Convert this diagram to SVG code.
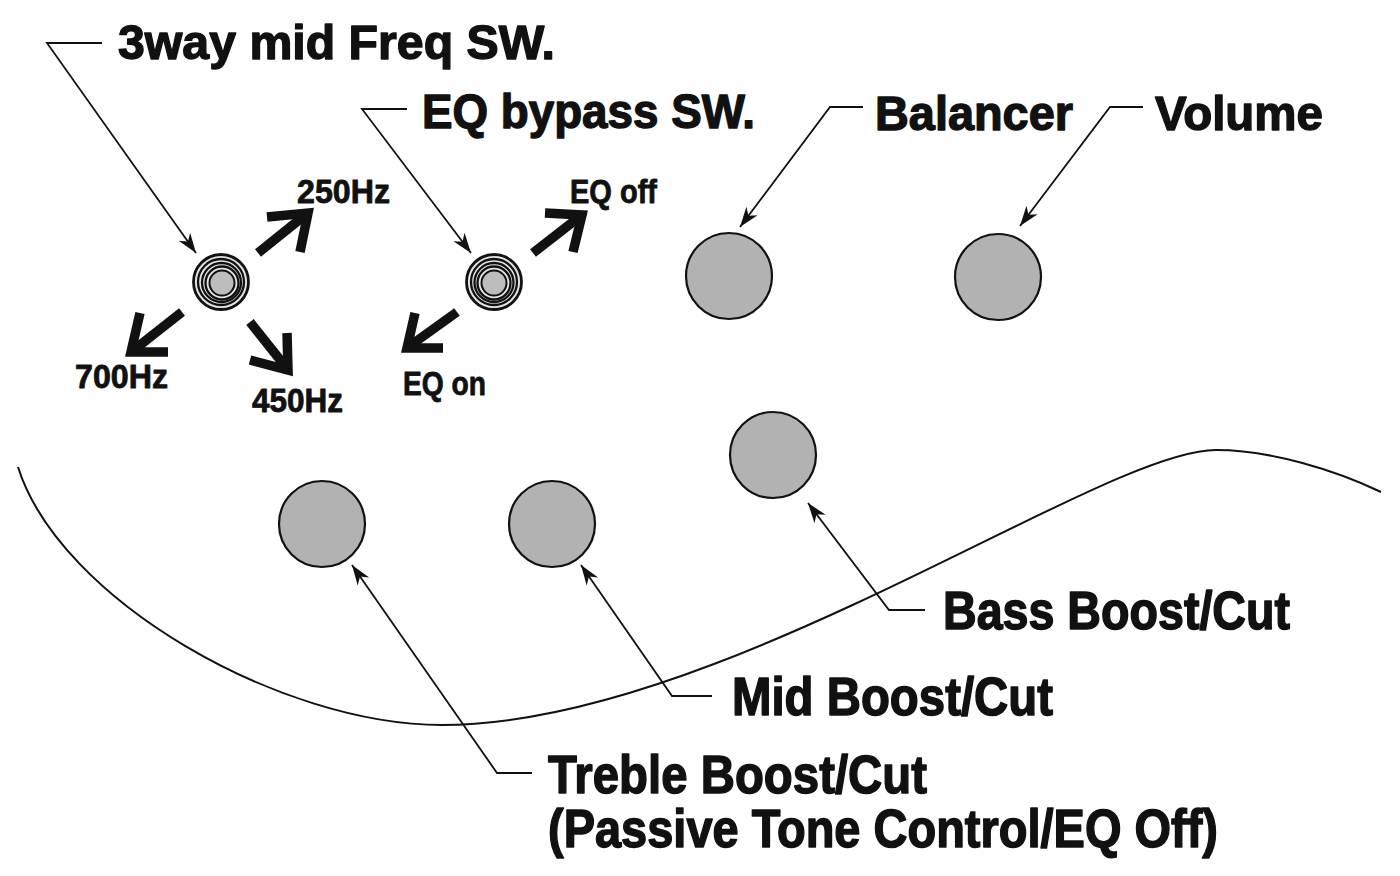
<svg xmlns="http://www.w3.org/2000/svg" width="1400" height="876" viewBox="0 0 1400 876">
  <defs>
    <marker id="ah" viewBox="-22 -9 24 18" markerWidth="24" markerHeight="18" refX="0" refY="0" markerUnits="userSpaceOnUse" orient="auto">
      <path d="M0,0 L-20,-7 L-14,0 L-20,7 Z" fill="#111"/>
    </marker>
    <style>
      .lbl { font-family: "Liberation Sans Narrow", "Liberation Sans", "DejaVu Sans Condensed", Arial, sans-serif; font-weight: bold; fill: #111; stroke: #111; stroke-linejoin: round; }
      .big { font-size: 49px; stroke-width: 1.4; }
      .bot { font-size: 54px; stroke-width: 1.5; }
      .sm { font-size: 33px; stroke-width: 0.8; }
      .knob { fill: #b2b2b2; stroke: #111; stroke-width: 2.2; }
      .ring { fill: none; stroke: #111; stroke-width: 2.3; }
      .thick { fill: none; stroke: #111; stroke-width: 9.5; stroke-linecap: butt; stroke-linejoin: miter; }
      .leader { fill: none; stroke: #111; stroke-width: 1.8; stroke-linejoin: miter; }
      .body { fill: none; stroke: #111; stroke-width: 2; }
    </style>
  </defs>
  <rect width="1400" height="876" fill="#ffffff"/>

  <!-- body outline -->
  <path class="body" d="M18,467 C60,600 280,725 442,725 C720,725 1100,450 1216,450 C1270,450 1335,470 1381,492"/>

  <!-- 3-way mid frequency switch -->
  <g id="freq-switch">
    <circle cx="221" cy="282" r="27.5" fill="#e4e4e4" stroke="#111" stroke-width="2.8"/>
    <circle class="ring" cx="221" cy="282" r="23"/>
    <circle class="ring" cx="221.5" cy="282.5" r="19.5"/>
    <circle class="ring" cx="222" cy="283" r="16.5"/>
    <circle cx="222" cy="283" r="12.5" fill="#bdbdbd" stroke="#111" stroke-width="2"/>
    <path class="thick" d="M258,253 L304,216"/>
    <path class="thick" d="M267,217 L308,213 L300,252"/>
    <path class="thick" d="M182,312 L135,349"/>
    <path class="thick" d="M140,313 L131,352 L168,352"/>
    <path class="thick" d="M250,322 L285,366"/>
    <path class="thick" d="M287,333 L288,370 L250,360"/>
    <text class="lbl sm" x="297" y="203" textLength="93" lengthAdjust="spacingAndGlyphs">250Hz</text>
    <text class="lbl sm" x="75" y="388" textLength="93" lengthAdjust="spacingAndGlyphs">700Hz</text>
    <text class="lbl sm" x="252" y="412" textLength="91" lengthAdjust="spacingAndGlyphs">450Hz</text>
  </g>

  <!-- EQ bypass switch -->
  <g id="eq-switch">
    <circle cx="494" cy="282" r="27.5" fill="#e4e4e4" stroke="#111" stroke-width="2.8"/>
    <circle class="ring" cx="494" cy="282" r="23"/>
    <circle class="ring" cx="494" cy="282.5" r="19.5"/>
    <circle class="ring" cx="494" cy="283" r="16.5"/>
    <circle cx="494" cy="283" r="12.5" fill="#bdbdbd" stroke="#111" stroke-width="2"/>
    <path class="thick" d="M533,253 L578,218"/>
    <path class="thick" d="M545,213 L582,215 L573,252"/>
    <path class="thick" d="M457,312 L411,345"/>
    <path class="thick" d="M415,313 L407,348 L443,348"/>
    <text class="lbl sm" x="570" y="203" textLength="87" lengthAdjust="spacingAndGlyphs">EQ off</text>
    <text class="lbl sm" x="403" y="395" textLength="83" lengthAdjust="spacingAndGlyphs">EQ on</text>
  </g>

  <g id="balancer">
    <circle class="knob" cx="729" cy="276" r="43"/>
  </g>
  <g id="volume">
    <circle class="knob" cx="998" cy="277" r="43"/>
  </g>
  <g id="bass">
    <circle class="knob" cx="773" cy="455" r="43"/>
  </g>
  <g id="mid">
    <circle class="knob" cx="552" cy="524" r="43"/>
  </g>
  <g id="treble">
    <circle class="knob" cx="322" cy="524" r="43"/>
  </g>

  <!-- labels -->
  <g id="labels">
    <text class="lbl big" x="118" y="59" textLength="437" lengthAdjust="spacingAndGlyphs">3way mid Freq SW.</text>
    <text class="lbl big" x="422" y="128" textLength="333" lengthAdjust="spacingAndGlyphs">EQ bypass SW.</text>
    <text class="lbl big" x="875" y="130" textLength="198" lengthAdjust="spacingAndGlyphs">Balancer</text>
    <text class="lbl big" x="1155" y="130" textLength="168" lengthAdjust="spacingAndGlyphs">Volume</text>
    <text class="lbl bot" x="943" y="629" textLength="347" lengthAdjust="spacingAndGlyphs">Bass Boost/Cut</text>
    <text class="lbl bot" x="732" y="715" textLength="321" lengthAdjust="spacingAndGlyphs">Mid Boost/Cut</text>
    <text class="lbl bot" x="548" y="793" textLength="379" lengthAdjust="spacingAndGlyphs">Treble Boost/Cut</text>
    <text class="lbl bot" x="548" y="847" textLength="670" lengthAdjust="spacingAndGlyphs">(Passive Tone Control/EQ Off)</text>
  </g>

  <!-- connectors -->
  <g id="connectors">
    <path class="leader" d="M102,43 L47,43 L196,253" marker-end="url(#ah)"/>
    <path class="leader" d="M407,109 L362,109 L471,253" marker-end="url(#ah)"/>
    <path class="leader" d="M863,107 L830,107 L740,227" marker-end="url(#ah)"/>
    <path class="leader" d="M1143,107 L1110,107 L1020,226" marker-end="url(#ah)"/>
    <path class="leader" d="M925,610 L889,610 L808,503" marker-end="url(#ah)"/>
    <path class="leader" d="M712,696 L672,696 L581,565" marker-end="url(#ah)"/>
    <path class="leader" d="M532,773 L497,773 L352,565" marker-end="url(#ah)"/>
  </g>
</svg>
